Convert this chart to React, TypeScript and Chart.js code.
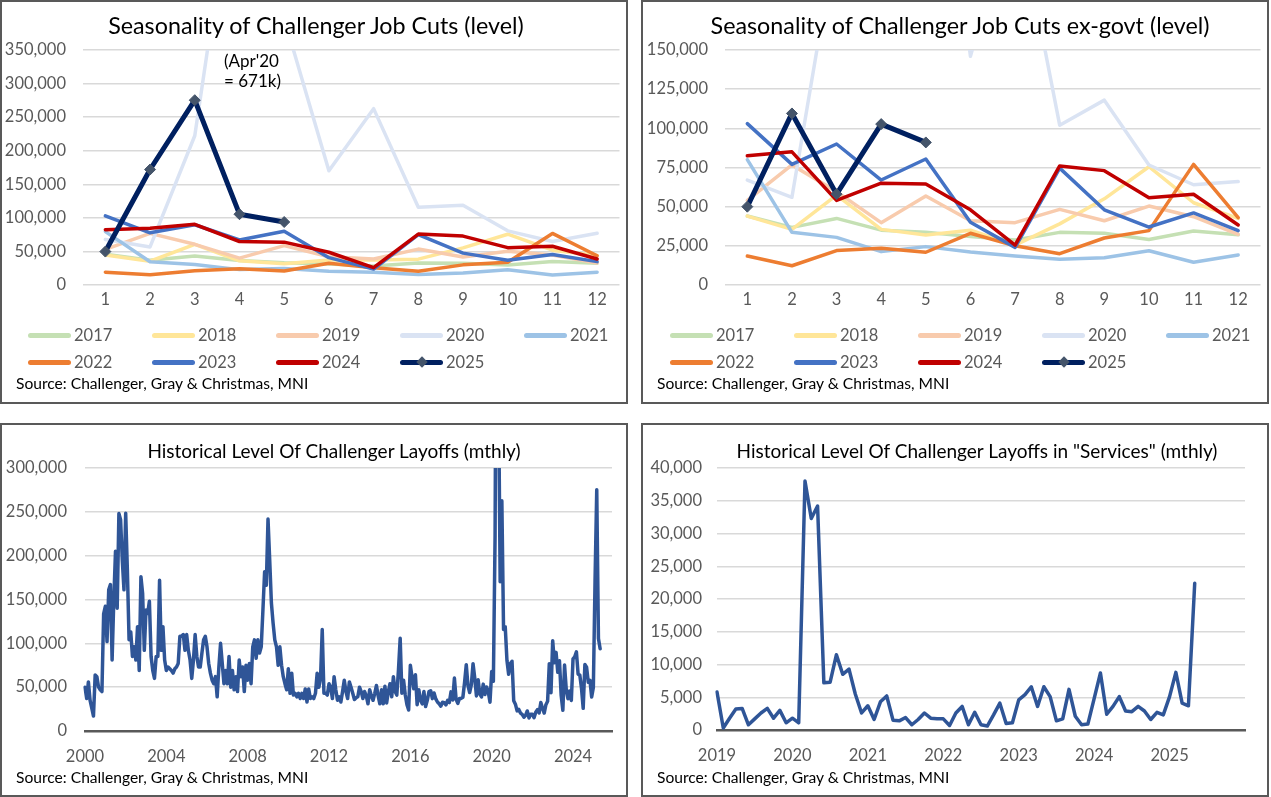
import React, { useEffect, useRef } from 'react';
import { Chart, registerables } from 'chart.js';

Chart.register(...registerables);

// ---------------- data ----------------
const MONTHS = ['1', '2', '3', '4', '5', '6', '7', '8', '9', '10', '11', '12'];
const YEARS = ['2017', '2018', '2019', '2020', '2021', '2022', '2023', '2024', '2025'];

// Total job cuts by month
const TOTAL_2017 = [45934, 36957, 43310, 36602, 33092, 31105, 28307, 32858, 32346, 29831, 35038, 32423];
const TOTAL_2018 = [44653, 35369, 60357, 36081, 31517, 37202, 37202, 38472, 55285, 75644, 51855, 43884];
const TOTAL_2019 = [52988, 76835, 60587, 40023, 58577, 41977, 38845, 53480, 41557, 50275, 44569, 32843];
const TOTAL_2020 = [67735, 56660, 222288, 671129, 397016, 170219, 262649, 115762, 118804, 80666, 64797, 77030];
const TOTAL_2021 = [79552, 34531, 30603, 22913, 24586, 20476, 18942, 15723, 17895, 22822, 14875, 19052];
const TOTAL_2022 = [19064, 15245, 21387, 24286, 20712, 32517, 25810, 20485, 29989, 33843, 76835, 43651];
const TOTAL_2023 = [102943, 77770, 89703, 66995, 80089, 40709, 23697, 75151, 47457, 36836, 45510, 34817];
const TOTAL_2024 = [82307, 84638, 90309, 64789, 63816, 48786, 25885, 75891, 72821, 55597, 57727, 38792];
const TOTAL_2025 = [49795, 172017, 275240, 105441, 93816];

// Job cuts excluding government by month
const EXGOVT_2017 = [44000, 36800, 42500, 35000, 33600, 31000, 28700, 33600, 33000, 29000, 34500, 32000];
const EXGOVT_2018 = [44000, 35500, 57400, 35500, 31900, 35000, 25500, 39000, 55000, 75500, 52500, 42500];
const EXGOVT_2019 = [54000, 76600, 59600, 39800, 56800, 41000, 39800, 48300, 41000, 50400, 43600, 32300];
const EXGOVT_2020 = [67000, 56000, 224000, 640000, 380000, 146000, 248000, 102000, 118000, 76600, 64000, 66000];
const EXGOVT_2021 = [80000, 33600, 30400, 21300, 24500, 21000, 18500, 16400, 17400, 21900, 14500, 19100];
const EXGOVT_2022 = [18500, 12300, 22000, 23400, 20900, 33000, 25000, 20000, 30000, 34700, 77000, 43000];
const EXGOVT_2023 = [103000, 77000, 90000, 67000, 80400, 40000, 24000, 74600, 48000, 37000, 46000, 34700];
const EXGOVT_2024 = [82500, 85000, 54000, 65000, 64500, 48000, 25500, 76000, 73000, 55700, 57900, 38300];
const EXGOVT_2025 = [50000, 109500, 58000, 102700, 91000];

const TOTAL_BY_YEAR = [TOTAL_2017, TOTAL_2018, TOTAL_2019, TOTAL_2020, TOTAL_2021, TOTAL_2022, TOTAL_2023, TOTAL_2024, TOTAL_2025];
const EXGOVT_BY_YEAR = [EXGOVT_2017, EXGOVT_2018, EXGOVT_2019, EXGOVT_2020, EXGOVT_2021, EXGOVT_2022, EXGOVT_2023, EXGOVT_2024, EXGOVT_2025];

// Monthly total layoffs, Jan 2000 - May 2025
const HIST_START_YEAR = 2000;
const HIST_END_YEAR = 2025; // axis runs to Dec of this year
const HIST_LAYOFFS = [
  // 2000
  50000, 37000, 56000, 35000, 26000, 17000, 64000, 62000, 50000, 47000, 45000, 133713,
  // 2001
  142208, 102000, 161000, 167000, 81000, 150000, 205000, 140000, 248000, 241000, 195000, 161000,
  // 2002
  248475, 184000, 104000, 113000, 85000, 96000, 81000, 119000, 69000, 176000, 157000, 92000,
  // 2003
  138000, 134000, 148000, 85000, 69000, 60000, 85000, 85000, 172000, 92000, 119000, 81000,
  // 2004
  69000, 73000, 71000, 69000, 66000, 71000, 73000, 77000, 108000, 108000, 110000, 92000,
  // 2005
  110000, 92000, 81000, 60000, 81000, 110000, 85000, 73000, 73000, 89000, 104000, 108000,
  // 2006
  96000, 77000, 66000, 58000, 54000, 62000, 39000, 73000, 100000, 77000, 54000, 69000,
  // 2007
  54000, 85000, 50000, 69000, 47000, 62000, 45000, 81000, 62000, 73000, 45000, 75000,
  // 2008
  58000, 77000, 54000, 96000, 104000, 83000, 104000, 89000, 96000, 138000, 181671, 166348,
  // 2009
  241749, 195000, 146000, 123000, 104000, 96000, 75000, 96000, 75000, 62000, 54000, 47000,
  // 2010
  71000, 43000, 66000, 41000, 43000, 39000, 43000, 37000, 43000, 37000, 48000, 33000,
  // 2011
  48000, 37000, 39000, 37000, 43000, 66000, 50000, 60000, 115730, 43000, 43000, 41000,
  // 2012
  54000, 50000, 37000, 62000, 47000, 35000, 39000, 33000, 45000, 58000, 45000, 37000,
  // 2013
  56000, 50000, 43000, 36000, 38000, 39000, 50000, 45000, 37000, 45000, 40000, 31000,
  // 2014
  47000, 40000, 35000, 43000, 52000, 40000, 31000, 47000, 31000, 51000, 32000, 45000,
  // 2015
  54000, 39000, 62000, 45000, 41000, 70000, 105696, 43000, 58000, 41000, 30000, 24000,
  // 2016
  75114, 61599, 48207, 64141, 30000, 47000, 35000, 31000, 45000, 28000, 35000, 45000,
  // 2017
  45934, 36957, 43310, 36602, 33092, 31105, 28307, 32858, 32346, 29831, 35038, 32423,
  // 2018
  44653, 35369, 60357, 36081, 31517, 37202, 37202, 38472, 55285, 75644, 51855, 43884,
  // 2019
  52988, 76835, 60587, 40023, 58577, 41977, 38845, 53480, 41557, 50275, 44569, 32843,
  // 2020
  67735, 56660, 222288, 671129, 397016, 170219, 262649, 115762, 118804, 80666, 64797, 77030,
  // 2021
  79552, 34531, 30603, 22913, 24586, 20476, 18942, 15723, 17895, 22822, 14875, 19052,
  // 2022
  19064, 15245, 21387, 24286, 20712, 32517, 25810, 20485, 29989, 33843, 76835, 43651,
  // 2023
  102943, 77770, 89703, 66995, 80089, 40709, 23697, 75151, 47457, 36836, 45510, 34817,
  // 2024
  82307, 84638, 90309, 64789, 63816, 48786, 25885, 75891, 72821, 55597, 57727, 38792,
  // 2025
  49795, 172017, 275240, 105441, 93816,
];

// Monthly layoffs in "Services", Jan 2019 - May 2025
const SERVICES_START_YEAR = 2019;
const SERVICES_LAST_LABEL_YEAR = 2025;
const SERVICES_LAYOFFS = [
  // 2019
  5800, 300, 1800, 3200, 3300, 800, 1700, 2600, 3300, 1800, 3000, 1100,
  // 2020
  1800, 1100, 38000, 32300, 34200, 7200, 7300, 11500, 8500, 9300, 5500, 2600,
  // 2021
  3700, 1600, 4300, 5200, 1500, 1400, 1900, 800, 1600, 2600, 1800, 1700,
  // 2022
  1700, 700, 2600, 3600, 800, 2700, 800, 600, 2300, 4100, 1000, 1100,
  // 2023
  4600, 5400, 6600, 3600, 6600, 5100, 1400, 1700, 6200, 2100, 800, 900,
  // 2024
  4800, 8700, 2400, 3600, 5100, 2900, 2800, 3600, 2900, 1600, 2700, 2300,
  // 2025
  5100, 8800, 4100, 3700, 22400,
];

// ---------------- styles ----------------
const YEAR_COLORS = ['#C5E0B4', '#FFE699', '#F8CBAD', '#DAE3F3', '#9DC3E6', '#ED7D31', '#4472C4', '#C00000', '#002060'];
const MARKER_COLOR = '#44546A';
const HIST_COLOR = '#2F5597';
const GRID_COLOR = '#D9D9D9';
const TICK_COLOR = '#595959';
const BORDER_COLOR = '#595959';
const FONT = 'Lato';
const TICK_FONT = { family: FONT, size: 16.5 };

const PANEL_W = 628;
const TOP_H = 404;
const BOT_H = 374;

function monthlyLabels(startYear: number, count: number): string[] {
  const out: string[] = [];
  for (let i = 0; i < count; i++) {
    out.push(`${startYear + Math.floor(i / 12)}-${String((i % 12) + 1).padStart(2, '0')}`);
  }
  return out;
}

const fmt = (v: any) => Number(v).toLocaleString('en-US');

function seasonalConfig(series: number[][], yMax: number, step: number, yWidth: number, padRight: number): any {
  return {
    type: 'line',
    data: {
      labels: MONTHS,
      datasets: YEARS.map((y, i) => {
        const last = i === YEARS.length - 1;
        return {
          label: y,
          data: series[i],
          borderColor: YEAR_COLORS[i],
          backgroundColor: YEAR_COLORS[i],
          borderWidth: last ? 5 : 3.5,
          pointRadius: last ? 5.5 : 0,
          pointHoverRadius: last ? 5.5 : 0,
          pointStyle: 'rectRot',
          pointBackgroundColor: MARKER_COLOR,
          pointBorderColor: MARKER_COLOR,
          pointBorderWidth: 1,
          borderJoinStyle: 'round',
          borderCapStyle: 'round',
          tension: 0,
          order: YEARS.length - 1 - i,
        };
      }),
    },
    options: {
      animation: false,
      responsive: false,
      maintainAspectRatio: false,
      events: [],
      layout: { padding: { left: 0, top: 48, right: padRight, bottom: 87 } },
      plugins: { legend: { display: false }, tooltip: { enabled: false }, title: { display: false } },
      scales: {
        x: {
          type: 'category',
          offset: true,
          grid: { display: false, drawTicks: false },
          border: { display: false },
          ticks: { color: TICK_COLOR, font: TICK_FONT, padding: 5, maxRotation: 0, minRotation: 0, autoSkip: false },
          afterFit: (s: any) => { s.height = 30; },
        },
        y: {
          min: 0,
          max: yMax,
          grid: { color: GRID_COLOR, lineWidth: 1.5, drawTicks: false },
          border: { display: false },
          ticks: { stepSize: step, color: TICK_COLOR, font: TICK_FONT, padding: 17, callback: fmt },
          afterFit: (s: any) => { s.width = yWidth; },
        },
      },
    },
  };
}

function historyConfig(
  labels: string[], data: number[], yMax: number, step: number,
  labelEvery: number, startYear: number, lastLabelYear: number,
  yWidth: number, yPad: number, pad: { top: number; right: number; bottom: number },
): any {
  return {
    type: 'line',
    data: {
      labels,
      datasets: [{
        data,
        borderColor: HIST_COLOR,
        backgroundColor: HIST_COLOR,
        borderWidth: 3.5,
        pointRadius: 0,
        pointHoverRadius: 0,
        borderJoinStyle: 'round',
        borderCapStyle: 'round',
        tension: 0,
      }],
    },
    options: {
      animation: false,
      responsive: false,
      maintainAspectRatio: false,
      events: [],
      layout: { padding: { left: 0, top: pad.top, right: pad.right, bottom: pad.bottom } },
      plugins: { legend: { display: false }, tooltip: { enabled: false }, title: { display: false } },
      scales: {
        x: {
          type: 'category',
          offset: false,
          grid: { display: false, drawTicks: false },
          border: { display: true, color: BORDER_COLOR, width: 2.5 },
          ticks: {
            color: TICK_COLOR, font: TICK_FONT, padding: 16, maxRotation: 0, minRotation: 0, autoSkip: false,
            callback: (_v: any, i: number) => {
              if (i % labelEvery !== 0) return null;
              const yr = startYear + i / 12;
              return yr <= lastLabelYear ? String(yr) : null;
            },
          },
          afterFit: (s: any) => { s.height = 40; },
        },
        y: {
          min: 0,
          max: yMax,
          grid: { color: GRID_COLOR, lineWidth: 1.5, drawTicks: false },
          border: { display: false },
          ticks: { stepSize: step, color: TICK_COLOR, font: TICK_FONT, padding: yPad, callback: fmt },
          afterFit: (s: any) => { s.width = yWidth; },
        },
      },
    },
  };
}

// ---------------- components ----------------
function Panel(props: { left: number; top: number; height: number; children: any }) {
  return (
    <div
      style={{
        position: 'absolute', left: props.left, top: props.top, width: PANEL_W, height: props.height,
        boxSizing: 'border-box', border: `2px solid ${BORDER_COLOR}`, background: '#fff', overflow: 'hidden',
      }}
    >
      {props.children}
    </div>
  );
}

function Title(props: { text: string; cx: number; cy: number; size: number }) {
  return (
    <div
      style={{
        position: 'absolute', left: props.cx - 320, width: 640, top: props.cy - 15, height: 30, lineHeight: '30px',
        textAlign: 'center', fontSize: props.size, color: '#000', whiteSpace: 'nowrap', fontFamily: FONT,
      }}
    >
      {props.text}
    </div>
  );
}

function Source(props: { cy: number }) {
  return (
    <div
      style={{
        position: 'absolute', left: 14, top: props.cy - 10, height: 20, lineHeight: '20px',
        fontSize: 15.6, color: '#000', whiteSpace: 'nowrap', fontFamily: FONT,
      }}
    >
      Source: Challenger, Gray &amp; Christmas, MNI
    </div>
  );
}

function Legend(props: { left: number; row1: number; rowGap: number }) {
  return (
    <>
      {YEARS.map((y, i) => {
        const col = i % 5;
        const row = Math.floor(i / 5);
        const x = props.left + col * 124;
        const cy = props.row1 + row * props.rowGap;
        const last = i === YEARS.length - 1;
        return (
          <React.Fragment key={y}>
            <div
              style={{
                position: 'absolute', left: x, top: cy - 2, width: 43, height: 4.5, borderRadius: 2.5,
                background: YEAR_COLORS[i],
              }}
            />
            {last ? (
              <div
                style={{
                  position: 'absolute', left: x + 21.5 - 4, top: cy - 4 + 0.25, width: 8, height: 8,
                  background: MARKER_COLOR, transform: 'rotate(45deg)',
                }}
              />
            ) : null}
            <div
              style={{
                position: 'absolute', left: x + 46, top: cy - 10, height: 20, lineHeight: '20px',
                fontSize: 16.5, color: TICK_COLOR, fontFamily: FONT, whiteSpace: 'nowrap',
              }}
            >
              {y}
            </div>
          </React.Fragment>
        );
      })}
    </>
  );
}

export default function App() {
  const tlRef = useRef<HTMLCanvasElement>(null);
  const trRef = useRef<HTMLCanvasElement>(null);
  const blRef = useRef<HTMLCanvasElement>(null);
  const brRef = useRef<HTMLCanvasElement>(null);

  useEffect(() => {
    document.body.style.margin = '0';
    const histLabels = monthlyLabels(HIST_START_YEAR, (HIST_END_YEAR - HIST_START_YEAR + 1) * 12);
    const servLabels = monthlyLabels(SERVICES_START_YEAR, (SERVICES_LAST_LABEL_YEAR - SERVICES_START_YEAR + 1) * 12 + 1);
    const charts = [
      new Chart(tlRef.current!, seasonalConfig(TOTAL_BY_YEAR, 350000, 50000, 81, 5)),
      new Chart(trRef.current!, seasonalConfig(EXGOVT_BY_YEAR, 150000, 25000, 82, 4)),
      new Chart(blRef.current!, historyConfig(histLabels, HIST_LAYOFFS, 300000, 50000, 48, HIST_START_YEAR, HIST_END_YEAR, 83, 18, { top: 43, right: 14, bottom: 24 })),
      new Chart(brRef.current!, historyConfig(servLabels, SERVICES_LAYOFFS, 40000, 5000, 12, SERVICES_START_YEAR, SERVICES_LAST_LABEL_YEAR, 74, 15, { top: 43, right: 22, bottom: 25 })),
    ];
    return () => charts.forEach((c) => c.destroy());
  }, []);

  const cw = PANEL_W - 4;
  const topCh = TOP_H - 4;
  const botCh = BOT_H - 4;

  return (
    <div style={{ position: 'relative', width: 1271, height: 797, background: '#fff', fontFamily: FONT }}>
      <Panel left={0} top={0} height={TOP_H}>
        <canvas ref={tlRef} width={cw} height={topCh} style={{ position: 'absolute', left: 0, top: 0, width: cw, height: topCh }} />
        <Title text="Seasonality of Challenger Job Cuts (level)" cx={314} cy={23} size={23.3} />
        <div style={{ position: 'absolute', left: 222, top: 49, lineHeight: '20px', fontSize: 17, color: '#000', fontFamily: FONT, whiteSpace: 'nowrap' }}>
          (Apr'20<br />= 671k)
        </div>
        <Legend left={26} row1={333} rowGap={27} />
        <Source cy={381} />
      </Panel>
      <Panel left={641} top={0} height={TOP_H}>
        <canvas ref={trRef} width={cw} height={topCh} style={{ position: 'absolute', left: 0, top: 0, width: cw, height: topCh }} />
        <Title text="Seasonality of Challenger Job Cuts ex-govt (level)" cx={317} cy={23} size={23.3} />
        <Legend left={27} row1={333} rowGap={27} />
        <Source cy={381} />
      </Panel>
      <Panel left={0} top={423} height={BOT_H}>
        <canvas ref={blRef} width={cw} height={botCh} style={{ position: 'absolute', left: 0, top: 0, width: cw, height: botCh }} />
        <Title text="Historical Level Of Challenger Layoffs (mthly)" cx={332} cy={26} size={19} />
        <Source cy={352} />
      </Panel>
      <Panel left={641} top={423} height={BOT_H}>
        <canvas ref={brRef} width={cw} height={botCh} style={{ position: 'absolute', left: 0, top: 0, width: cw, height: botCh }} />
        <Title text={'Historical Level Of Challenger Layoffs in "Services" (mthly)'} cx={334} cy={26} size={19} />
        <Source cy={352} />
      </Panel>
    </div>
  );
}
